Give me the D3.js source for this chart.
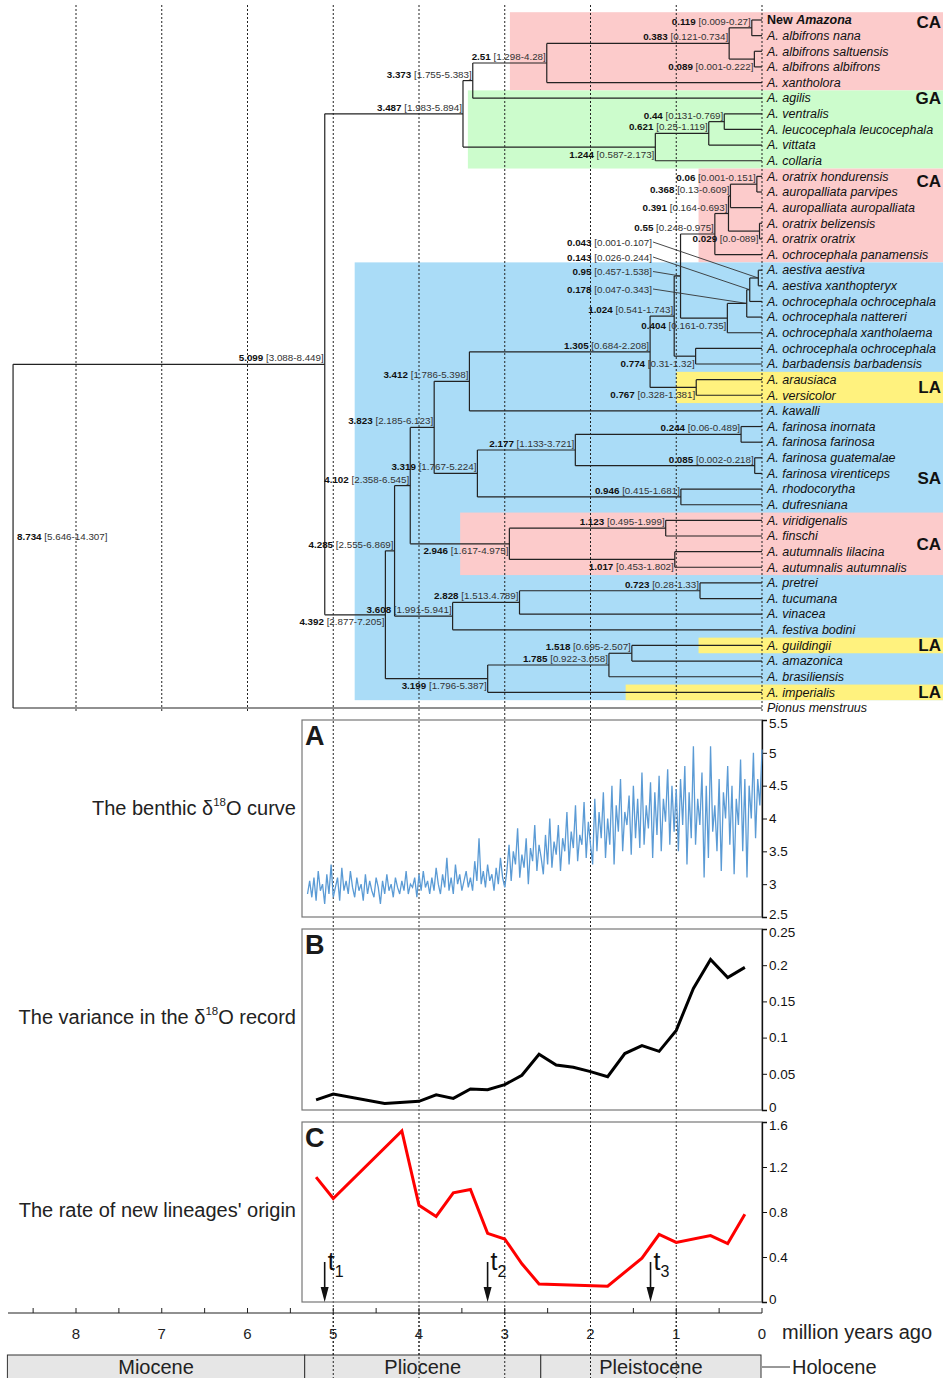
<!DOCTYPE html>
<html><head><meta charset="utf-8">
<script src="https://cdn.jsdelivr.net/npm/d3@7"></script>
<style>body{margin:0;background:#fff} svg{display:block;font-family:"Liberation Sans",Arial,sans-serif}</style>
</head><body><svg id="c" width="949" height="1378"></svg>
<script>
// ---------------- DATA ----------------
const leaves = ["New Amazona","A. albifrons nana","A. albifrons saltuensis","A. albifrons albifrons","A. xantholora",
"A. agilis","A. ventralis","A. leucocephala leucocephala","A. vittata","A. collaria",
"A. oratrix hondurensis","A. auropalliata parvipes","A. auropalliata auropalliata","A. oratrix belizensis","A. oratrix oratrix","A. ochrocephala panamensis",
"A. aestiva aestiva","A. aestiva xanthopteryx","A. ochrocephala ochrocephala","A. ochrocephala nattereri","A. ochrocephala xantholaema","A. ochrocephala ochrocephala","A. barbadensis barbadensis",
"A. arausiaca","A. versicolor","A. kawalli","A. farinosa inornata","A. farinosa farinosa","A. farinosa guatemalae","A. farinosa virenticeps","A. rhodocorytha","A. dufresniana",
"A. viridigenalis","A. finschi","A. autumnalis lilacina","A. autumnalis autumnalis","A. pretrei","A. tucumana","A. vinacea","A. festiva bodini",
"A. guildingii","A. amazonica","A. brasiliensis","A. imperialis","Pionus menstruus"];

function N(age, ci, kids){ return {age:age, ci:ci, children:kids.map(k => typeof k === "number" ? {leaf:k} : k)}; }
const tree = N("8.734","5.646-14.307",[
  N("5.099","3.088-8.449",[
    N("3.487","1.983-5.894",[
      N("3.373","1.755-5.383",[
        N("2.51","1.298-4.28",[
          N("0.383","0.121-0.734",[ N("0.119","0.009-0.27",[0,1]), N("0.089","0.001-0.222",[2,3]) ]),
          4]),
        5]),
      N("1.244","0.587-2.173",[
        N("0.621","0.25-1.119",[ N("0.44","0.131-0.769",[6,7]), 8 ]),
        9])]),
    N("4.392","2.877-7.205",[
      N("4.285","2.555-6.869",[
        N("4.102","2.358-6.545",[
          N("3.823","2.185-6.123",[
            N("3.412","1.786-5.398",[
              N("1.305","0.684-2.208",[
                N("1.024","0.541-1.743",[
                  N("0.95","0.457-1.538",[
                    N("0.55","0.248-0.975",[
                      N("0.391","0.164-0.693",[
                        N("0.368","0.13-0.609",[ N("0.06","0.001-0.151",[10,11]), 12 ]),
                        N("0.029","0.0-089",[13,14]) ]),
                      15]),
                    N("0.404","0.161-0.735",[
                      N("0.178","0.047-0.343",[
                        N("0.143","0.026-0.244",[ N("0.043","0.001-0.107",[16,17]), 18 ]),
                        19]),
                      20]) ]),
                  N("0.774","0.31-1.32",[21,22]) ]),
                N("0.767","0.328-1.381",[23,24]) ]),
              25]),
            N("3.319","1.767-5.224",[
              N("2.177","1.133-3.721",[ N("0.244","0.06-0.489",[26,27]), N("0.085","0.002-0.218",[28,29]) ]),
              N("0.946","0.415-1.681",[30,31]) ]) ]),
          N("2.946","1.617-4.975",[ N("1.123","0.495-1.999",[32,33]), N("1.017","0.453-1.802",[34,35]) ]) ]),
        N("3.608","1.991-5.941",[
          N("2.828","1.513.4.789",[ N("0.723","0.28-1.33",[36,37]), 38 ]),
          39]) ]),
      N("3.199","1.796-5.387",[
        N("1.785","0.922-3.058",[ N("1.518","0.695-2.507",[40,41]), 42 ]),
        43]) ]) ]),
  44]);

// biogeographic regions: rows covered and age of left edge
const regionNames = ["CA","GA","CA","SA","LA","CA","LA","LA"];
const regionFirst = [0,5,10,16,23,32,40,43];
const regionLast  = [4,9,15,43,24,35,40,43];
const regionFrom  = [2.94,3.43,0.74,4.75,1.0,3.52,0.74,1.59];

// benthic d18O record (per mille), from 5.3 Ma to 0 Ma, every 0.025 Myr
const d18OStart = 5.3, d18OStep = 0.025;
const d18O = [
2.85,3.05,2.8,3.1,2.75,3.2,2.9,3.0,2.7,3.15,2.85,3.3,2.8,2.95,3.1,2.75,3.25,2.9,3.05,2.85,3.2,2.95,2.8,3.1,2.9,3.0,2.75,3.15,2.85,3.05,2.9,2.8,3.1,2.95,2.7,3.05,2.85,3.15,2.9,3.0,2.8,3.1,2.95,2.85,3.05,2.9,3.2,2.85,3.0,2.95,3.1,2.8,3.15,
2.9,3.2,2.95,3.05,2.85,3.1,2.9,3.25,3.0,2.85,3.15,2.95,3.4,2.9,3.1,2.85,3.3,3.0,3.15,2.9,3.05,3.2,2.95,3.1,2.9,3.35,3.05,3.7,3.0,3.2,2.95,3.3,3.05,3.15,2.9,3.25,3.0,3.4,3.1,2.95,
3.2,3.6,3.05,3.5,3.3,3.85,3.1,3.45,3.25,3.7,3.0,3.55,3.35,3.9,3.2,3.6,3.4,3.15,3.75,3.3,4.0,3.25,3.65,3.45,3.9,3.2,3.7,3.5,4.1,3.3,3.8,3.55,4.2,3.35,3.75,3.6,4.25,3.4,3.95,3.6,
3.3,4.3,3.5,4.1,3.7,4.4,3.4,4.0,3.6,4.5,3.3,4.2,3.8,4.6,3.5,4.1,3.9,4.35,3.45,4.5,3.7,4.3,3.55,4.7,3.6,4.2,3.85,4.55,3.4,4.4,3.75,4.65,3.5,4.3,3.95,4.75,3.6,4.5,3.8,4.45,
3.5,4.6,3.9,4.8,3.3,4.4,3.7,5.1,3.6,4.3,3.9,4.7,3.1,4.5,3.4,5.1,3.8,4.2,3.5,4.6,3.2,4.4,4.0,4.8,3.6,4.5,3.15,4.3,3.9,4.9,3.5,4.6,3.1,4.5,4.0,5.0,3.7,4.6,4.2,5.05];

const varAge = [5.2,5.0,4.4,4.0,3.8,3.6,3.4,3.2,3.0,2.8,2.6,2.4,2.2,2.0,1.8,1.6,1.4,1.2,1.0,0.8,0.6,0.4,0.2];
const varVal = [0.014,0.022,0.009,0.012,0.021,0.016,0.029,0.028,0.035,0.048,0.077,0.062,0.059,0.053,0.046,0.078,0.089,0.081,0.11,0.168,0.208,0.183,0.197];

const rateAge = [5.2,5.0,4.2,4.0,3.8,3.6,3.4,3.2,3.0,2.8,2.6,1.8,1.4,1.2,1.0,0.6,0.4,0.2];
const rateVal = [1.11,0.92,1.52,0.86,0.76,0.97,1.0,0.61,0.56,0.34,0.16,0.14,0.39,0.6,0.53,0.59,0.52,0.78];

const shiftAge = [5.1,3.2,1.3];
const shiftLabel = ["1","2","3"];

const ticksA = [2.5,3,3.5,4,4.5,5,5.5];
const ticksB = [0,0.05,0.1,0.15,0.2,0.25];
const ticksC = [0,0.4,0.8,1.2,1.6];
const timeTicks = [8,7,6,5,4,3,2,1,0];
const epochNames = ["Miocene","Pliocene","Pleistocene"];
const epochStart = [8.8,5.333,2.58];
const epochEnd = [5.333,2.58,0.0117];

// ---------------- LAYOUT ----------------
const svg = d3.select("#c");
const x = d3.scaleLinear().domain([0,1]).range([762,676.25]);
const yRow = d3.scaleLinear().domain([0,44]).range([20,708]);
const ink = "#222";
const regionColor = {CA:"#fccbcb", GA:"#ccfccc", SA:"#aadcf7", LA:"#fff27e"};
const regionLabelRow = [0.1,5,10.3,29.3,23.5,33.5,40,43];

// region backgrounds
const gReg = svg.append("g");
regionNames.forEach((nm,i)=>{
  gReg.append("rect").attr("x", x(regionFrom[i])).attr("width", 943 - x(regionFrom[i]))
    .attr("y", yRow(regionFirst[i]) - 7.8).attr("height", yRow(regionLast[i]) - yRow(regionFirst[i]) + 15.6)
    .attr("fill", regionColor[nm]);
});
regionNames.forEach((nm,i)=>{
  gReg.append("text").attr("x",941).attr("y", yRow(regionLabelRow[i]) + 6)
    .attr("text-anchor","end").attr("font-size",17).attr("font-weight","bold").attr("fill","#111").text(nm);
});

// dashed time lines
const gDash = svg.append("g").attr("stroke", ink).attr("stroke-width",1).attr("stroke-dasharray","2,2");
timeTicks.forEach(t=>{
  const long = t >= 1 && t <= 5;
  gDash.append("line").attr("x1",x(t)).attr("x2",x(t)).attr("y1",5).attr("y2", long ? 1378 : 712);
});

// tree layout
const root = d3.hierarchy(tree);
root.eachAfter(n=>{
  if (n.data.leaf !== undefined){ n.px = x(0); n.py = yRow(n.data.leaf); }
  else { n.px = x(parseFloat(n.data.age)); n.py = d3.mean(n.children, c=>c.py); }
});
const gTree = svg.append("g").attr("stroke", ink).attr("stroke-width",1.2).attr("fill","none");
root.each(n=>{
  if (!n.children) return;
  const ys = n.children.map(c=>c.py);
  gTree.append("line").attr("x1",n.px).attr("x2",n.px).attr("y1",d3.min(ys)).attr("y2",d3.max(ys));
  n.children.forEach(c=>{
    gTree.append("line").attr("x1",n.px).attr("x2",c.px).attr("y1",c.py).attr("y2",c.py);
  });
});

// node labels
const below = new Set(["0.089","1.244","0.029","0.774","0.767","0.404","2.946","1.017","3.199","4.392"]);
const leader = {"0.043":242,"0.143":257,"0.95":271.5,"0.178":289};
const gLab = svg.append("g").attr("font-size",9.8);
function nodeLabel(n, tx, ty, anchor){
  const t = gLab.append("text").attr("x",tx).attr("y",ty).attr("text-anchor",anchor);
  t.append("tspan").attr("font-weight","bold").attr("fill","#111").text(n.data.age);
  t.append("tspan").attr("fill","#333").text(" [" + n.data.ci + "]");
}
root.each(n=>{
  if (!n.children) return;
  const a = n.data.age;
  if (n === root){ nodeLabel(n, n.px + 4, n.py + 4, "start"); return; }
  if (leader[a] !== undefined){
    nodeLabel(n, 652, leader[a] + 3.5, "end");
    gLab.append("line").attr("x1",653).attr("y1",leader[a]).attr("x2",n.px).attr("y2",n.py)
      .attr("stroke","#333").attr("stroke-width",0.9);
    return;
  }
  nodeLabel(n, n.px - 1, below.has(a) ? n.py + 10.5 : n.py - 3, "end");
});

// leaf labels
const gLeaf = svg.append("g").attr("font-size",12.5).attr("fill","#111");
root.leaves().forEach(n=>{
  const name = leaves[n.data.leaf];
  const t = gLeaf.append("text").attr("x",767).attr("y",n.py + 4.3);
  if (name === "New Amazona"){
    t.attr("font-weight","bold");
    t.append("tspan").text("New ");
    t.append("tspan").attr("font-style","italic").text("Amazona");
  } else t.attr("font-style","italic").text(name);
});

// ---------------- PANELS ----------------
const pL = 302, pR = 762;
const panels = [
  {top:720, bot:917, dom:[2.5,5.5], ticks:ticksA, letter:"A"},
  {top:929, bot:1110, dom:[0,0.25], ticks:ticksB, letter:"B"},
  {top:1122, bot:1302, dom:[0,1.6], ticks:ticksC, letter:"C"}
];
panels.forEach(p=>{
  p.y = d3.scaleLinear().domain(p.dom).range([p.bot,p.top]);
  svg.append("rect").attr("x",pL).attr("y",p.top).attr("width",pR-pL).attr("height",p.bot-p.top)
    .attr("fill","none").attr("stroke","#777").attr("stroke-width",1.2);
  const ax = svg.append("g").attr("transform",`translate(${pR},0)`)
    .call(d3.axisRight(p.y).tickValues(p.ticks).tickFormat(d=>String(d)).tickSize(5).tickPadding(2));
  ax.select(".domain").attr("stroke","#111").attr("stroke-width",1.3);
  ax.selectAll(".tick line").attr("stroke","#111");
  const lo = p.dom[0], hi = p.dom[1];
  ax.selectAll("text").attr("font-size",13.5).attr("fill","#111").attr("font-family","Liberation Sans, Arial, sans-serif")
    .attr("dy", d => d === hi ? "0.55em" : d === lo ? "0.1em" : "0.32em");
  svg.append("text").attr("x",pL+3).attr("y",p.top+25).attr("font-size",27).attr("font-weight","bold")
    .attr("fill","#1a1a1a").text(p.letter);
});

// panel A line
svg.append("path").datum(d18O).attr("fill","none").attr("stroke","#5b9bd5").attr("stroke-width",1.3)
  .attr("d", d3.line().x((d,i)=>x(d18OStart - i*d18OStep)).y(d=>panels[0].y(d)));
// panel B line
svg.append("path").datum(varAge.map((a,i)=>[a,varVal[i]])).attr("fill","none").attr("stroke","#000").attr("stroke-width",3)
  .attr("d", d3.line().x(d=>x(d[0])).y(d=>panels[1].y(d[1])));
// panel C line
svg.append("path").datum(rateAge.map((a,i)=>[a,rateVal[i]])).attr("fill","none").attr("stroke","#ff0000").attr("stroke-width",3)
  .attr("d", d3.line().x(d=>x(d[0])).y(d=>panels[2].y(d[1])));

// arrows t1..t3
shiftAge.forEach((a,i)=>{
  const ax = x(a);
  svg.append("line").attr("x1",ax).attr("x2",ax).attr("y1",1262).attr("y2",1290).attr("stroke","#111").attr("stroke-width",1.6);
  svg.append("path").attr("d",`M${ax-4},${1287}L${ax+4},${1287}L${ax},${1302}Z`).attr("fill","#111");
  const t = svg.append("text").attr("x",ax+3).attr("y",1270).attr("font-size",25).attr("fill","#111");
  t.append("tspan").text("t");
  t.append("tspan").attr("font-size",16).attr("dy",7).text(shiftLabel[i]);
});

// left titles
function title(y, parts){
  const t = svg.append("text").attr("x",296).attr("y",y).attr("text-anchor","end").attr("font-size",20).attr("fill","#222");
  parts.forEach(p=>{
    const s = t.append("tspan").text(p[0]);
    if (p[1]==="sup") s.attr("font-size",11.5).attr("dy",-9);
    if (p[1]==="after") s.attr("dy",9);
  });
}
title(815, [["The benthic δ"],["18","sup"],["O curve","after"]]);
title(1024, [["The variance in the δ"],["18","sup"],["O record","after"]]);
title(1217, [["The rate of new lineages' origin"]]);

// time axis
const gAx = svg.append("g").attr("stroke","#222");
gAx.append("line").attr("x1",8).attr("x2",762).attr("y1",1313).attr("y2",1313).attr("stroke-width",1.2);
d3.range(0,8.75,0.5).forEach(t=>{
  gAx.append("line").attr("x1",x(t)).attr("x2",x(t)).attr("y1",1313).attr("y2",1308).attr("stroke-width",1);
});
timeTicks.forEach(t=>{
  svg.append("text").attr("x",x(t)).attr("y",1339).attr("text-anchor","middle").attr("font-size",15).attr("fill","#222").text(t);
});
svg.append("text").attr("x",782).attr("y",1339).attr("font-size",20).attr("fill","#222").text("million years ago");

// epochs
epochNames.forEach((nm,i)=>{
  const x0 = x(epochStart[i]), x1 = x(epochEnd[i]);
  svg.append("rect").attr("x",x0).attr("y",1355).attr("width",x1-x0).attr("height",30)
    .attr("fill","#e6e6e6").attr("stroke","#333").attr("stroke-width",1);
  svg.append("text").attr("x",(x0+x1)/2).attr("y",1374).attr("text-anchor","middle").attr("font-size",20).attr("fill","#222").text(nm);
});
svg.append("line").attr("x1",x(0)).attr("x2",790).attr("y1",1367).attr("y2",1367).attr("stroke","#333");
svg.append("text").attr("x",792).attr("y",1374).attr("font-size",20).attr("fill","#222").text("Holocene");
// redraw dashed lines over epoch boxes
timeTicks.filter(t=>t>=1&&t<=5).forEach(t=>{
  svg.append("line").attr("x1",x(t)).attr("x2",x(t)).attr("y1",1313).attr("y2",1378)
    .attr("stroke",ink).attr("stroke-dasharray","2,2");
});
</script></body></html>
